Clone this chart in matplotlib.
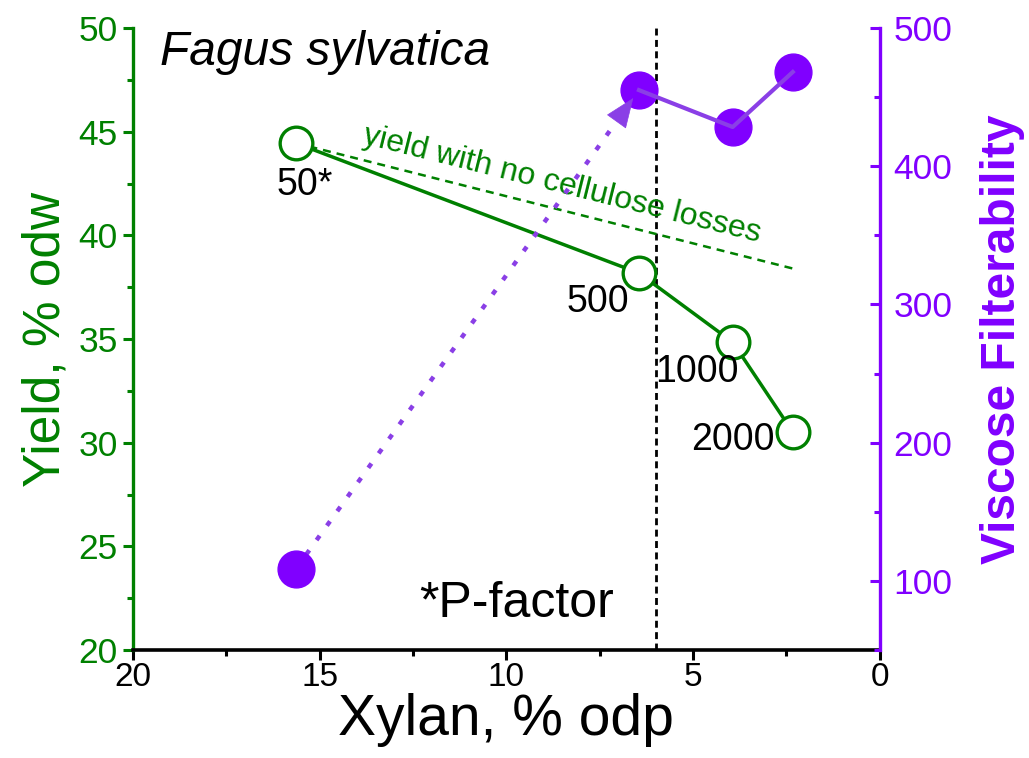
import numpy as np
import matplotlib
matplotlib.use("Agg")
import matplotlib.pyplot as plt
from matplotlib.ticker import MultipleLocator

plt.rcParams['font.family'] = ['Liberation Sans', 'DejaVu Sans']

# ---------------- data ----------------
xylan = [15.64, 6.45, 3.94, 2.33]
yieldOdw = [44.45, 38.18, 34.85, 30.51]
filterability = [108.6, 455.1, 428.4, 468.2]
pFactorLabels = ["50*", "500", "1000", "2000"]

# yield with no cellulose losses (reference line)
refX = [15.64, 2.33]
refY = [44.45, 38.4]

xylanLimit = 6.0

# ---------------- style ----------------
GREEN = "#008000"
PURPLE = "#8000FF"
PURPLE_LINE = "#8A3FE6"

fig = plt.figure(figsize=(10.29, 7.58), dpi=100)
ax = fig.add_axes([0.1293, 0.1425, 0.7257, 0.8205])
ax2 = ax.twinx()

# yield
ax.plot(refX, refY, linestyle=(0, (3.2, 2.4)), color=GREEN, lw=1.8, zorder=2)
ax.plot(xylan, yieldOdw, color=GREEN, lw=2.5, marker='o', ms=23.5, mfc='white',
        mec=GREEN, mew=2.4, zorder=3)
ax.axvline(xylanLimit, color='black', linestyle=(0, (2.5, 1.6)), lw=2.0, zorder=1)

# filterability
ax2.plot(xylan[:2], filterability[:2], color=PURPLE_LINE, lw=3.2,
         linestyle=(0, (1.2, 2.8)), zorder=2)
ax2.annotate("", xy=(xylan[1], filterability[1]), xytext=(xylan[0], filterability[0]),
             arrowprops=dict(arrowstyle='-|>,head_length=1.0,head_width=0.4',
                             mutation_scale=20, lw=0.5, color=PURPLE_LINE,
                             shrinkA=405, shrinkB=7), zorder=5)
ax2.plot(xylan, filterability, linestyle='none', marker='o', ms=26.5,
         color=PURPLE, zorder=3)
ax2.plot(xylan[1:], filterability[1:], color=PURPLE_LINE, lw=3, zorder=4)

# texts
ax.text(19.28, 48.84, "Fagus sylvatica", style='italic', fontsize=34.5,
        ha='left', va='center')
labelPos = [(15.4, 42.43), (7.55, 36.78), (4.9, 33.4), (3.94, 30.13)]
for lbl, (lx, ly) in zip(pFactorLabels, labelPos):
    ax.text(lx, ly, lbl, fontsize=27, ha='center', va='center')
ax.text(9.72, 22.21, "*P-factor", fontsize=36, ha='center', va='center')
ax.text(8.5, 42.45, "yield with no cellulose losses", fontsize=23, color=GREEN,
        rotation=-14, rotation_mode='anchor', ha='center', va='center')

# axes
ax.set_xlim(20, 0)
ax.set_ylim(20, 50)
ax2.set_ylim(50, 500)

ax.xaxis.set_major_locator(MultipleLocator(5))
ax.xaxis.set_minor_locator(MultipleLocator(2.5))
ax.yaxis.set_major_locator(MultipleLocator(5))
ax.yaxis.set_minor_locator(MultipleLocator(2.5))
ax2.yaxis.set_major_locator(MultipleLocator(100))
ax2.yaxis.set_minor_locator(MultipleLocator(50))
ax2.set_yticks([100, 200, 300, 400, 500])

ax.set_xlabel("Xylan, % odp", fontsize=41, labelpad=0)
ax.set_ylabel("Yield, % odw", fontsize=37, color=GREEN, labelpad=6)
ax2.set_ylabel("Viscose Filterability", fontsize=34.5, color=PURPLE,
               fontweight='bold', labelpad=20)

for a in (ax, ax2):
    a.spines['top'].set_visible(False)
ax.spines['left'].set_color(GREEN)
ax.spines['left'].set_linewidth(2.4)
ax.spines['bottom'].set_linewidth(2.6)
ax.spines['right'].set_visible(False)
ax2.spines['left'].set_visible(False)
ax2.spines['bottom'].set_visible(False)
ax2.spines['right'].set_color(PURPLE)
ax2.spines['right'].set_linewidth(2.4)

ax.tick_params(axis='x', which='major', labelsize=24, length=7, width=2.2, pad=2)
ax.tick_params(axis='x', which='minor', length=4, width=2.2)
ax.tick_params(axis='y', which='major', labelsize=25.5, length=7, width=2.2,
               colors=GREEN, pad=4)
ax.tick_params(axis='y', which='minor', length=4, width=2.2, colors=GREEN)
ax2.tick_params(axis='y', which='major', labelsize=25.5, length=7, width=2.2,
                colors=PURPLE, direction='in', pad=10)
ax2.tick_params(axis='y', which='minor', length=4, width=2.2, colors=PURPLE,
                direction='in')

fig.savefig("out.png", dpi=100)
